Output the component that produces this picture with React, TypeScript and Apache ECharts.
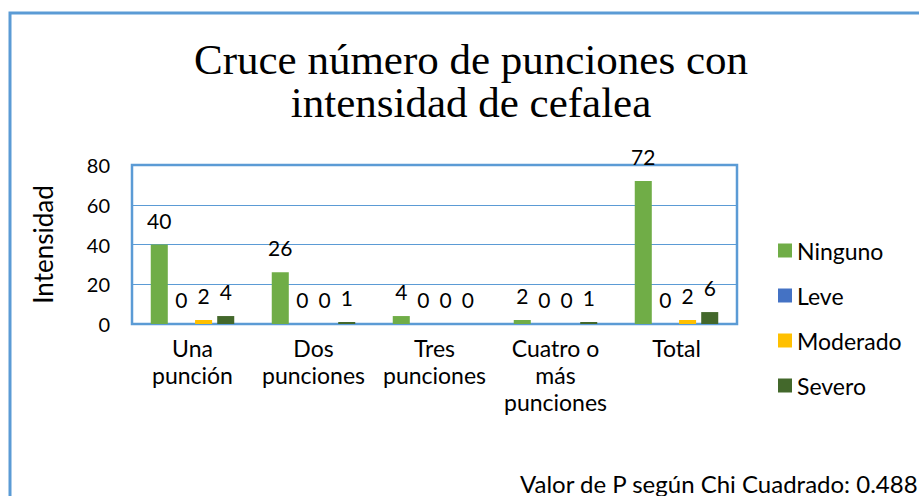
import React, { useEffect, useRef } from "react";
import * as echarts from "echarts";

const categories = ["Una\npunción", "Dos\npunciones", "Tres\npunciones", "Cuatro o\nmás\npunciones", "Total"];
const seriesNames = ["Ninguno", "Leve", "Moderado", "Severo"];
const ninguno = [40, 26, 4, 2, 72];
const leve = [0, 0, 0, 0, 0];
const moderado = [2, 0, 0, 0, 2];
const severo = [4, 1, 0, 1, 6];
const yTicks = { min: 0, max: 80, interval: 20 };
const colors = ["#70ad47", "#4472c4", "#ffc000", "#43682b"];
const titleText = "Cruce número de punciones con\nintensidad de cefalea";
const yName = "Intensidad";
const footnote = "Valor de P según Chi Cuadrado: 0.488";

const SANS = "Lato";
const SERIF = "'Liberation Serif', 'Times New Roman', serif";

export default function App() {
  const ref = useRef<HTMLDivElement>(null);
  useEffect(() => {
    if (!ref.current) return;
    const chart = echarts.init(ref.current, undefined, { renderer: "svg" });
    const values = [ninguno, leve, moderado, severo];
    chart.setOption({
      animation: false,
      backgroundColor: "#ffffff",
      title: {
        text: titleText,
        left: 466,
        top: 33,
        textAlign: "center",
        textStyle: {
          fontFamily: SERIF,
          fontSize: 43,
          fontWeight: "normal",
          lineHeight: 43,
          color: "#000",
        },
      },
      graphic: [
        {
          type: "rect",
          shape: { x: 10, y: 13, width: 1000, height: 600 },
          style: { fill: "none", stroke: "#5b9bd5", lineWidth: 3 },
          silent: true,
        },
        {
          type: "text",
          x: 520,
          y: 483,
          style: {
            text: footnote,
            fontFamily: SANS,
            fontSize: 24,
            fill: "#000",
            verticalAlign: "middle",
          },
        },
      ],
      legend: {
        orient: "vertical",
        left: 778,
        top: 239,
        padding: 0,
        icon: "rect",
        itemWidth: 14,
        itemHeight: 14,
        itemGap: 22,
        data: seriesNames,
        textStyle: { fontFamily: SANS, fontSize: 23, color: "#000" },
      },
      grid: {
        left: 132,
        right: 182,
        top: 165,
        bottom: 172,
        show: true,
        borderColor: "#5b9bd5",
        borderWidth: 2.5,
      },
      xAxis: {
        type: "category",
        data: categories,
        axisLine: { show: false },
        axisTick: { show: false },
        axisLabel: {
          interval: 0,
          margin: 10,
          fontFamily: SANS,
          fontSize: 23,
          lineHeight: 27,
          color: "#000",
        },
      },
      yAxis: {
        type: "value",
        min: yTicks.min,
        max: yTicks.max,
        interval: yTicks.interval,
        name: yName,
        nameLocation: "middle",
        nameGap: 76,
        nameTextStyle: { fontFamily: SANS, fontSize: 26, color: "#000" },
        axisLine: { show: false },
        axisTick: { show: false },
        axisLabel: { margin: 22, fontFamily: SANS, fontSize: 20, color: "#000" },
        splitLine: { lineStyle: { color: "#5b9bd5", width: 1 } },
      },
      series: seriesNames.map((name, i) => ({
        name,
        type: "bar",
        data: values[i],
        barGap: "30%",
        barCategoryGap: "31%",
        itemStyle: { color: colors[i] },
        label: {
          show: true,
          position: "top",
          distance: 14,
          fontFamily: SANS,
          fontSize: 21,
          color: "#000",
        },
      })),
    });
    return () => chart.dispose();
  }, []);
  return (
    <div
      ref={ref}
      style={{ position: "fixed", left: 0, top: 0, width: 919, height: 496 }}
    />
  );
}
